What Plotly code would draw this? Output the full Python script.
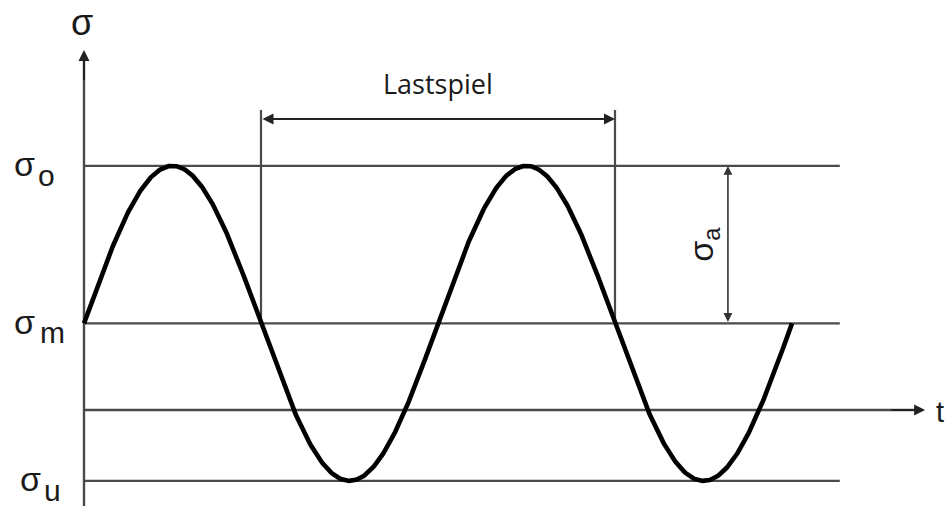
import numpy as np
import plotly.graph_objects as go

# Stress levels (sigma units) and load-cycle parameters
sigma_m = 0.55        # mean stress
sigma_a = 1.0         # stress amplitude
sigma_o = sigma_m + sigma_a   # upper stress
sigma_u = sigma_m - sigma_a   # lower stress
period = 1.0          # one load cycle
n_cycles = 2

level_symbols = ["σ", "σ", "σ"]
level_subs = ["o", "m", "u"]
level_values = [sigma_o, sigma_m, sigma_u]

# Extents of the drawing (in t / sigma units)
t_lines_end = 2.135
t_axis_end = 2.376
sigma_axis_top = 2.286
cycle_start, cycle_end = 0.5, 1.5
cycle_mark_top = 1.905
cycle_arrow_y = 1.848
amp_arrow_t = 1.819

x_range = [-0.2373, 2.4322]
y_range = [-0.6095, 2.6032]

t = np.linspace(0, n_cycles * period, 800)
sigma = sigma_m + sigma_a * np.sin(2 * np.pi * t / period)

line_col = "#4a4a4a"
text_col = "#1a1a1a"

fig = go.Figure()

# Horizontal reference levels
for v in level_values:
    fig.add_trace(go.Scatter(x=[0, t_lines_end], y=[v, v], mode="lines",
                             line=dict(color=line_col, width=2.4),
                             hoverinfo="skip", showlegend=False))

# Time axis
fig.add_trace(go.Scatter(x=[0, t_axis_end - 0.02], y=[0, 0], mode="lines",
                         line=dict(color=line_col, width=2.4),
                         hoverinfo="skip", showlegend=False))
# Stress axis
fig.add_trace(go.Scatter(x=[0, 0], y=[y_range[0], sigma_axis_top - 0.05], mode="lines",
                         line=dict(color=line_col, width=2.4),
                         hoverinfo="skip", showlegend=False))

# Load-cycle markers
for tc in (cycle_start, cycle_end):
    fig.add_trace(go.Scatter(x=[tc, tc], y=[sigma_m, cycle_mark_top], mode="lines",
                             line=dict(color=line_col, width=2.2),
                             hoverinfo="skip", showlegend=False))

# Stress curve
fig.add_trace(go.Scatter(x=t, y=sigma, mode="lines",
                         line=dict(color="black", width=4.6),
                         hoverinfo="skip", showlegend=False))

annotations = []
arrow_common = dict(xref="x", yref="y", axref="x", ayref="y", text="",
                    showarrow=True, arrowhead=2, arrowsize=1.1, arrowwidth=2,
                    arrowcolor="#222222")
# Axis arrowheads
annotations.append(dict(x=t_axis_end, y=0, ax=t_axis_end - 0.1, ay=0, **arrow_common))
annotations.append(dict(x=0, y=sigma_axis_top, ax=0, ay=sigma_axis_top - 0.2, **arrow_common))
# Lastspiel double arrow
annotations.append(dict(x=cycle_end, y=cycle_arrow_y, ax=cycle_start, ay=cycle_arrow_y,
                        startarrowhead=2, arrowside="end+start", startarrowsize=1.1,
                        **arrow_common))
# Amplitude double arrow
amp_arrow = dict(arrow_common)
amp_arrow.update(arrowwidth=1.6, arrowcolor="#333333")
annotations.append(dict(x=amp_arrow_t, y=sigma_o, ax=amp_arrow_t, ay=sigma_m,
                        startarrowhead=2, arrowside="end+start", startarrowsize=1.1,
                        **amp_arrow))

sym_family = "Liberation Sans, Arial"

def label(x, y, text, size, **kw):
    d = dict(x=x, y=y, xref="x", yref="y", text=text, showarrow=False,
             xanchor="center", yanchor="middle",
             font=dict(family=sym_family, size=size, color=text_col))
    d.update(kw)
    return d

# Level labels: sigma symbol plus a large subscript letter
sym_dx = [-0.1667, -0.1667, -0.1525]
sub_dx = [-0.1073, -0.0876, -0.0876]
for sym, sub, v, sx, bx in zip(level_symbols, level_subs, level_values, sym_dx, sub_dx):
    annotations.append(label(sx, v + 0.01, sym, 34))
    annotations.append(label(bx, v - 0.06, sub, 30))

# Axis names
annotations.append(label(-0.0056, 2.4635, "σ", 36))
annotations.append(label(t_axis_end + 0.025, -0.0127, "t", 29, xanchor="left"))

# Cycle and amplitude labels
annotations.append(label((cycle_start + cycle_end) / 2, 2.073, "Lastspiel", 27,
                         font=dict(family="Open Sans, Noto Sans", size=27, color=text_col)))
annotations.append(label(1.7514, (sigma_o + sigma_m) / 2, "σ<sub>a</sub>", 34,
                         textangle=-90))

fig.update_layout(
    width=945, height=506,
    margin=dict(l=0, r=0, t=0, b=0),
    paper_bgcolor="white", plot_bgcolor="white",
    xaxis=dict(range=x_range, visible=False, fixedrange=True),
    yaxis=dict(range=y_range, visible=False, fixedrange=True),
    annotations=annotations,
    showlegend=False,
)

fig.write_html("out.html")
